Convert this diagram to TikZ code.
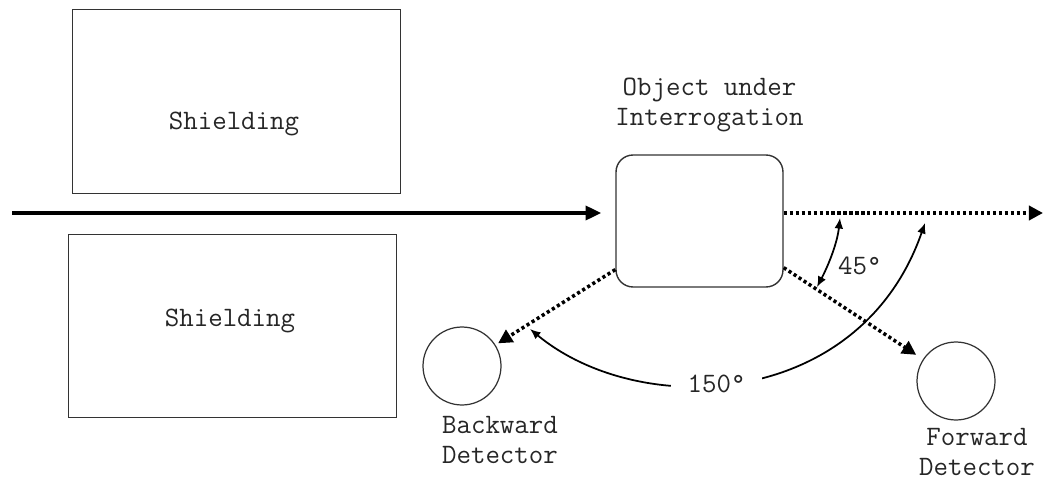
\documentclass[tikz,border=0pt]{standalone}
\usepackage{fontspec}
\usetikzlibrary{positioning, arrows.meta}

\begin{document}
\begin{tikzpicture}
		[x=0.02cm, y=-0.02cm,
		 shield/.style = {draw=black!80, line width=0.8pt, rectangle, minimum width=6.56cm, minimum height=3.67cm},
		 obj/.style = {draw=black!80, line width=0.8pt, rectangle, rounded corners=0.34cm, minimum width=3.34cm, minimum height=2.64cm},
		 det/.style = {draw=black!80, line width=0.7pt, circle, minimum size=1.56cm},
		 lbl/.style = {font=\fontsize{16}{17}\selectfont\ttfamily, align=center, text=black!85},
		 beam/.style = {line width=2pt, -{Triangle[length=9pt, width=8pt]}},
		 scat/.style = {line width=2pt, dash pattern=on 1.8pt off 1.6pt, -{Triangle[length=8pt, width=8pt]}},
		 ang/.style = {line width=1pt, {Latex[length=6pt, width=5pt]}-{Latex[length=6pt, width=5pt]}}]
		\useasboundingbox (0,0) rectangle (1044,483);

		% shielding blocks
		\node[shield] (shtop) at (236.5,101.5) {};
		\node[shield] (shbot) at (232.5,326) {};
		\node[lbl] (shtoplbl) at (234,124) {Shielding};
		\node[lbl] (shbotlbl) at (230,321) {Shielding};

		% object and detectors
		\node[obj] (obj) at (699.5,221) {};
		\node[lbl, above=0.32cm of obj, xshift=0.2cm] (objlbl) {Object under\\Interrogation};
		\node[det] (bdet) at (462,366) {};
		\node[det] (fdet) at (956,381) {};
		\node[lbl, below=0.1cm of bdet, xshift=0.76cm] (bdetlbl) {Backward\\Detector};
		\node[lbl, below=0.04cm of fdet, xshift=0.42cm] (fdetlbl) {Forward\\Detector};

		\coordinate (src) at (12,213);
		\coordinate (sink) at (1043,213);

		% incoming beam and scattered rays
		\draw[beam, shorten >=0.28cm] (src) -- (obj.west |- src);
		\draw[scat] (obj.east |- sink) -- (sink);
		\draw[scat, shorten >=0.06cm] (obj.210) -- (bdet);
		\draw[scat, shorten >=0.16cm] (obj.-29) -- (fdet);

		% angles
		\coordinate (a1) at (840,218);
		\coordinate (a2) at (817,287);
		\draw[ang] (a1) .. controls (837,245) and (827,268) .. (a2)
			node[lbl, pos=0.65, right=0.2cm, inner sep=0pt] (a45) {45°};
		\coordinate (b1) at (530,329);
		\coordinate (b2) at (925,223);
		\draw[ang] (b1) .. controls (640,420) and (860,410) .. (b2)
			node[lbl, pos=0.44, fill=white, inner xsep=0.33cm, inner ysep=1pt] (a150) {150°};
	\end{tikzpicture}
\end{document}
